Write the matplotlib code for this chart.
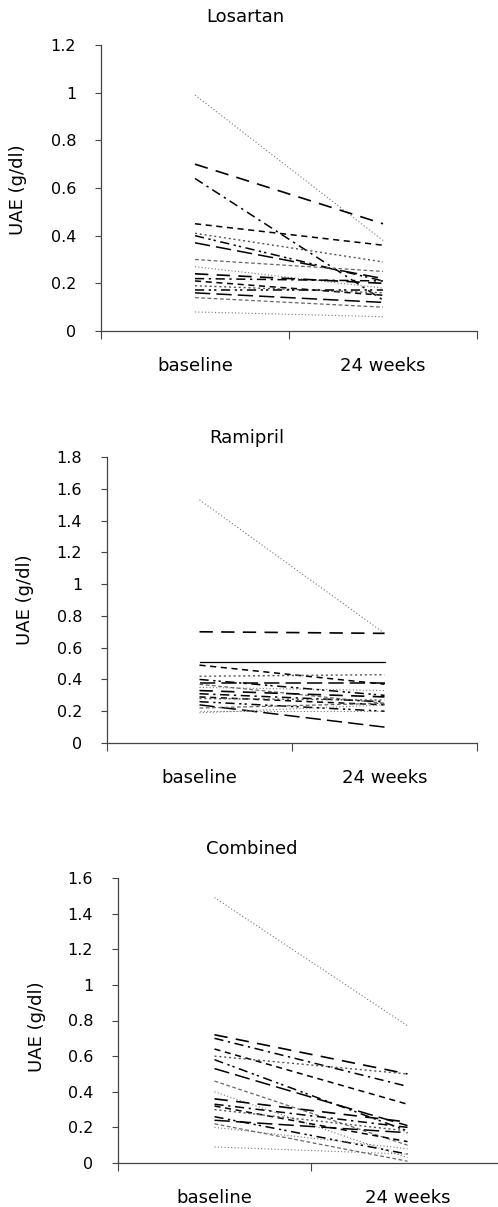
import matplotlib
matplotlib.use('Agg')
import matplotlib.pyplot as plt

plt.rcParams['font.family'] = ['DejaVu Sans']

# UAE (g/dl) per patient: baseline -> 24 weeks
losartan_base = [0.99, 0.70, 0.64, 0.45, 0.41, 0.40, 0.37, 0.30, 0.27, 0.24, 0.22, 0.21, 0.19, 0.17, 0.16, 0.14, 0.08]
losartan_24w  = [0.38, 0.45, 0.13, 0.36, 0.29, 0.21, 0.22, 0.25, 0.18, 0.20, 0.21, 0.15, 0.16, 0.17, 0.12, 0.10, 0.06]

ramipril_base = [1.53, 0.70, 0.51, 0.49, 0.42, 0.40, 0.38, 0.37, 0.35, 0.33, 0.31, 0.29, 0.28, 0.26, 0.24, 0.22, 0.20, 0.19]
ramipril_24w  = [0.69, 0.69, 0.51, 0.37, 0.43, 0.30, 0.38, 0.25, 0.33, 0.29, 0.26, 0.24, 0.27, 0.20, 0.10, 0.25, 0.20, 0.24]

combined_base = [1.49, 0.72, 0.70, 0.64, 0.60, 0.58, 0.53, 0.46, 0.40, 0.36, 0.33, 0.32, 0.30, 0.26, 0.24, 0.22, 0.20, 0.09]
combined_24w  = [0.77, 0.50, 0.43, 0.33, 0.50, 0.18, 0.21, 0.10, 0.03, 0.23, 0.20, 0.12, 0.18, 0.05, 0.17, 0.01, 0.08, 0.05]

categories = ['baseline', '24 weeks']

# line looks, cycled over patients
styles = [
    dict(color='#777777', ls=(0, (1, 2)), lw=0.8),
    dict(color='black', ls=(0, (8, 5)), lw=1.2),
    dict(color='black', ls=(0, (6, 3, 1.5, 3)), lw=1.1),
    dict(color='black', ls=(0, (4, 3)), lw=1.1),
    dict(color='#555555', ls=(0, (1.5, 2)), lw=1.0),
    dict(color='black', ls=(0, (6, 3, 1.5, 2, 1.5, 3)), lw=1.1),
    dict(color='black', ls=(0, (10, 4)), lw=1.1),
    dict(color='#666666', ls=(0, (3, 2)), lw=0.9),
]

panels = [
    # name, base, 24w, ymax, axes rect, title xy, ylabel xy
    ('Losartan', losartan_base, losartan_24w, 1.2,
     [101/498, 1-331/1207, 376/498, 286/1207], (245, 17), (18, 190)),
    ('Ramipril', ramipril_base, ramipril_24w, 1.8,
     [107/498, 1-743/1207, 370/498, 286/1207], (247, 438), (25, 600)),
    ('Combined', combined_base, combined_24w, 1.6,
     [118/498, 1-1163/1207, 386/498, 285/1207], (252, 849), (37, 1027)),
]

fig = plt.figure(figsize=(4.98, 12.07), dpi=100)

for name, base, wk, ymax, rect, txy, lxy in panels:
    ax = fig.add_axes(rect)
    for i in range(len(base)):
        st = styles[i % len(styles)]
        if name == 'Ramipril' and i == 2:
            st = dict(color='black', ls='-', lw=0.9)
        if i == len(base) - 1:
            st = styles[0]  # lowest patient drawn grey dotted
        ax.plot([0.5, 1.5], [base[i], wk[i]], **st)
    ax.set_xlim(0, 2)
    ax.set_ylim(0, ymax)
    n = int(round(ymax / 0.2))
    yt = [round(0.2 * k, 1) for k in range(n + 1)]
    ax.set_yticks(yt)
    ax.set_yticklabels(['%g' % v for v in yt], fontsize=11.5)
    ax.set_xticks([0, 1, 2])
    ax.set_xticklabels([])
    ax.set_xticks([0.5, 1.5], minor=True)
    ax.set_xticklabels(categories, minor=True, fontsize=13)
    ax.tick_params(axis='x', which='minor', length=0, pad=19)
    ax.tick_params(axis='x', which='major', length=6, width=0.8, color='#444444')
    ax.tick_params(axis='y', length=4, width=0.8, color='#444444', pad=14)
    for s in ['top', 'right']:
        ax.spines[s].set_visible(False)
    for s in ['left', 'bottom']:
        ax.spines[s].set_color('#444444')
        ax.spines[s].set_linewidth(0.9)
    fig.text(txy[0] / 498, 1 - txy[1] / 1207, name, ha='center', va='center', fontsize=13)
    fig.text(lxy[0] / 498, 1 - lxy[1] / 1207, 'UAE (g/dl)', ha='center', va='center',
             rotation=90, fontsize=13)

fig.savefig('out.png', dpi=100)
